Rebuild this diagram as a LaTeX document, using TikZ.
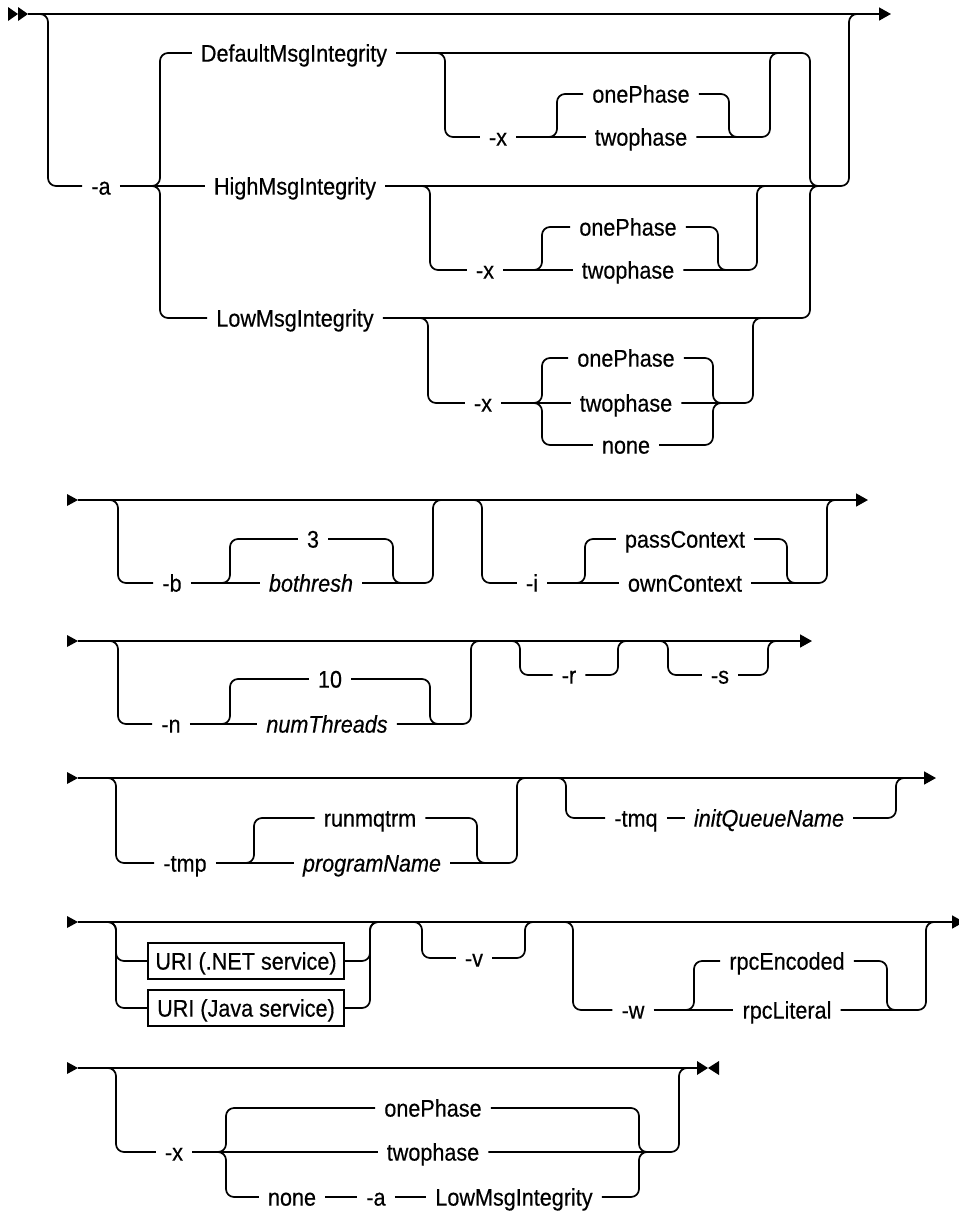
\documentclass[tikz,border=0pt]{standalone}
\usepackage{fontspec}
\setmainfont{Liberation Sans}[FakeStretch=0.9,FakeBold=0.4]
\usetikzlibrary{arrows.meta}
\tikzset{
  rr/.style={line width=1.7pt, rounded corners=8pt},
  trk/.style={line width=1.7pt},
  mainline/.style={line width=1.7pt, -{Triangle[length=12pt,width=13pt]}},
  lbl/.style={font=\fontsize{24}{24}\selectfont, inner xsep=9pt, inner ysep=0pt, text height=17.2pt, text depth=0pt},
  ital/.style={lbl, font=\fontsize{24}{24}\selectfont\itshape},
  uribox/.style={lbl, draw, line width=1.4pt, minimum width=196pt, minimum height=36pt, inner xsep=4pt}
}
\begin{document}
\begin{tikzpicture}[x=1pt,y=-1pt]
\useasboundingbox (0,0) rectangle (959,1211);
\fill[white] (0,0) rectangle (959,1211);

% ---------------- Row 1 ----------------
\fill (8,7) -- (18,14) -- (8,21) -- cycle;
\fill (18,7) -- (28,14) -- (18,21) -- cycle;
\coordinate (r1s) at (28,14);
\coordinate (r1e) at (891,14);
\draw[mainline] (r1s) -- (r1e);

\node[lbl] (a1) at (101,186) {-a};
\node[lbl] (def) at (294,53) {DefaultMsgIntegrity};
\node[lbl] (high) at (295,186) {HighMsgIntegrity};
\node[lbl] (low) at (295,318) {LowMsgIntegrity};
\draw[rr] (36,14) -| (48,186) -- (a1.west);
\draw[trk] (a1.east) -- (high.west);
\draw[rr] (148,186) -| (160,53) -- (def.west);
\draw[rr] (148,186) -| (160,318) -- (low.west);

\node[lbl] (dx) at (498,137) {-x};
\node[lbl] (done) at (641,94) {onePhase};
\node[lbl] (dtwo) at (641,137) {twophase};
\draw[rr] (433,53) -| (445,137) -- (dx.west);
\draw[trk] (dx.east) -- (dtwo.west);
\draw[rr] (545,137) -| (557,94) -- (done.west);
\draw[rr] (done.east) -| (729,137) -- (741,137);
\draw[rr] (dtwo.east) -| (770,53) -- (782,53);
\draw[rr] (def.east) -| (810,186) -- (822,186);

\node[lbl] (hx) at (485,270) {-x};
\node[lbl] (hone) at (628,227) {onePhase};
\node[lbl] (htwo) at (628,270) {twophase};
\draw[rr] (418,186) -| (430,270) -- (hx.west);
\draw[trk] (hx.east) -- (htwo.west);
\draw[rr] (530,270) -| (542,227) -- (hone.west);
\draw[rr] (hone.east) -| (718,270) -- (730,270);
\draw[rr] (htwo.east) -| (757,186) -- (769,186);
\draw[rr] (high.east) -| (849,14) -- (861,14);

\node[lbl] (lx) at (483,403) {-x};
\node[lbl] (lone) at (626,358) {onePhase};
\node[lbl] (ltwo) at (626,403) {twophase};
\node[lbl] (lnone) at (626,445) {none};
\draw[rr] (416,318) -| (428,403) -- (lx.west);
\draw[trk] (lx.east) -- (ltwo.west);
\draw[rr] (530,403) -| (542,358) -- (lone.west);
\draw[rr] (530,403) -| (542,445) -- (lnone.west);
\draw[rr] (lone.east) -| (713,403) -- (725,403);
\draw[rr] (lnone.east) -| (713,403) -- (725,403);
\draw[rr] (ltwo.east) -| (753,318) -- (765,318);
\draw[rr] (low.east) -| (810,186) -- (822,186);

% ---------------- Row 2 ----------------
\fill (67,494) -- (78,500) -- (67,506) -- cycle;
\coordinate (r2s) at (78,500);
\coordinate (r2e) at (868,500);
\draw[mainline] (r2s) -- (r2e);
\node[lbl] (nb) at (172,583) {-b};
\node[lbl] (b3) at (313,539) {3};
\node[ital] (bth) at (311,583) {bothresh};
\draw[rr] (106,500) -| (118,583) -- (nb.west);
\draw[trk] (nb.east) -- (bth.west);
\draw[rr] (218,583) -| (230,539) -- (b3.west);
\draw[rr] (b3.east) -| (393,583) -- (405,583);
\draw[rr] (bth.east) -| (433,500) -- (445,500);

\node[lbl] (ni) at (532,583) {-i};
\node[lbl] (pc) at (685,539) {passContext};
\node[lbl] (oc) at (685,583) {ownContext};
\draw[rr] (470,500) -| (482,583) -- (ni.west);
\draw[trk] (ni.east) -- (oc.west);
\draw[rr] (573,583) -| (585,539) -- (pc.west);
\draw[rr] (pc.east) -| (787,583) -- (799,583);
\draw[rr] (oc.east) -| (827,500) -- (839,500);

% ---------------- Row 3 ----------------
\fill (67,635) -- (78,641) -- (67,647) -- cycle;
\coordinate (r3s) at (78,641);
\coordinate (r3e) at (812,641);
\draw[mainline] (r3s) -- (r3e);
\node[lbl] (nn) at (171,724) {-n};
\node[lbl] (n10) at (330,679) {10};
\node[ital] (nth) at (327,724) {numThreads};
\draw[rr] (106,641) -| (118,724) -- (nn.west);
\draw[trk] (nn.east) -- (nth.west);
\draw[rr] (218,724) -| (230,679) -- (n10.west);
\draw[rr] (n10.east) -| (430,724) -- (442,724);
\draw[rr] (nth.east) -| (471,641) -- (483,641);

\node[lbl] (nr) at (569,675) {-r};
\draw[rr] (508,641) -| (520,675) -- (nr.west);
\draw[rr] (nr.east) -| (618,641) -- (630,641);
\node[lbl] (ns) at (720,675) {-s};
\draw[rr] (656,641) -| (668,675) -- (ns.west);
\draw[rr] (ns.east) -| (768,641) -- (780,641);

% ---------------- Row 4 ----------------
\fill (67,772) -- (78,778) -- (67,784) -- cycle;
\coordinate (r4s) at (78,778);
\coordinate (r4e) at (936,778);
\draw[mainline] (r4s) -- (r4e);
\node[lbl] (ntmp) at (185,863) {-tmp};
\node[lbl] (rmq) at (370,818) {runmqtrm};
\node[ital] (pgm) at (372,863) {programName};
\draw[rr] (104,778) -| (116,863) -- (ntmp.west);
\draw[trk] (ntmp.east) -- (pgm.west);
\draw[rr] (242,863) -| (254,818) -- (rmq.west);
\draw[rr] (rmq.east) -| (477,863) -- (489,863);
\draw[rr] (pgm.east) -| (517,778) -- (529,778);

\node[lbl] (ntmq) at (636,818) {-tmq};
\node[ital] (iqn) at (769,818) {initQueueName};
\draw[rr] (554,778) -| (566,818) -- (ntmq.west);
\draw[trk] (ntmq.east) -- (iqn.west);
\draw[rr] (iqn.east) -| (896,778) -- (908,778);

% ---------------- Row 5 ----------------
\fill (67,916) -- (78,922) -- (67,928) -- cycle;
\coordinate (r5s) at (78,922);
\coordinate (r5e) at (964,922);
\draw[mainline] (r5s) -- (r5e);
\node[uribox] (un) at (246,961) {URI (.NET service)};
\node[uribox] (uj) at (246,1008) {URI (Java service)};
\draw[rr] (104,922) -| (116,961) -- (un.west);
\draw[rr] (104,922) -| (116,1008) -- (uj.west);
\draw[rr] (un.east) -| (370,922) -- (382,922);
\draw[rr] (uj.east) -| (370,922) -- (382,922);

\node[lbl] (nv) at (474,958) {-v};
\draw[rr] (410,922) -| (422,958) -- (nv.west);
\draw[rr] (nv.east) -| (525,922) -- (537,922);

\node[lbl] (nw) at (633,1010) {-w};
\node[lbl] (rpe) at (787,961) {rpcEncoded};
\node[lbl] (rpl) at (787,1010) {rpcLiteral};
\draw[rr] (561,922) -| (573,1010) -- (nw.west);
\draw[trk] (nw.east) -- (rpl.west);
\draw[rr] (682,1010) -| (694,961) -- (rpe.west);
\draw[rr] (rpe.east) -| (887,1010) -- (899,1010);
\draw[rr] (rpl.east) -| (926,922) -- (938,922);

% ---------------- Row 6 ----------------
\fill (67,1062) -- (78,1068) -- (67,1074) -- cycle;
\coordinate (r6s) at (78,1068);
\coordinate (r6e) at (697,1068);
\draw[trk] (r6s) -- (r6e);
\fill (697,1061) -- (708,1068) -- (697,1075) -- cycle;
\fill (719,1061) -- (708,1068) -- (719,1075) -- cycle;

\node[lbl] (x6) at (174,1152) {-x};
\node[lbl] (o6) at (433,1108) {onePhase};
\node[lbl] (t6) at (433,1152) {twophase};
\node[lbl] (n6) at (292,1197) {none};
\node[lbl] (a6) at (376,1197) {-a};
\node[lbl] (lm6) at (514,1197) {LowMsgIntegrity};
\draw[rr] (104,1068) -| (116,1152) -- (x6.west);
\draw[trk] (x6.east) -- (t6.west);
\draw[rr] (214,1152) -| (226,1108) -- (o6.west);
\draw[rr] (214,1152) -| (226,1197) -- (n6.west);
\draw[trk] (n6.east) -- (a6.west);
\draw[trk] (a6.east) -- (lm6.west);
\draw[rr] (o6.east) -| (639,1152) -- (651,1152);
\draw[rr] (lm6.east) -| (639,1152) -- (651,1152);
\draw[rr] (t6.east) -| (679,1068) -- (691,1068);
\end{tikzpicture}
\end{document}
